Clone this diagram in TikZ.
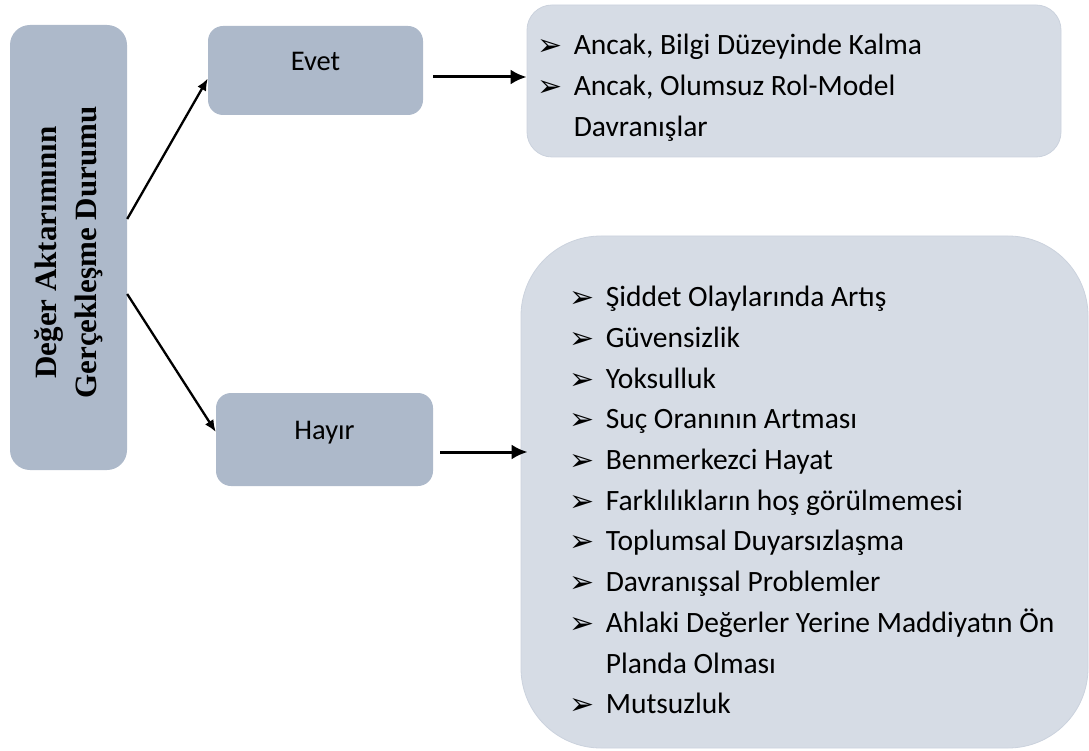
\documentclass[tikz,border=0pt]{standalone}
\usepackage{fontspec}
\setmainfont{Carlito}
\newfontfamily\titlefont{Liberation Serif}
\newfontfamily\arrowglyphs{DejaVu Sans}
\usetikzlibrary{arrows.meta}

\definecolor{darkfill}{HTML}{ADB9CA}
\definecolor{lightfill}{HTML}{D6DCE5}
\definecolor{lightedge}{HTML}{CBD2DD}

\newcommand{\itm}{\makebox[36pt][l]{\raisebox{-1pt}[0pt][0pt]{\arrowglyphs\fontsize{30}{30}\selectfont ➢}}}
\newcommand{\cnt}{\hspace*{36pt}}

\begin{document}
\begin{tikzpicture}
  [x=1pt,y=-1pt,
   darkbox/.style={fill=darkfill, rounded corners=15pt, inner sep=0pt,
     font=\fontsize{28.5}{34}\selectfont},
   lightbox/.style={fill=lightfill, draw=lightedge, line width=0.8pt, inner sep=0pt},
   itemtext/.style={anchor=north west, inner sep=0pt, align=left,
     font=\fontsize{29.5}{40.7}\selectfont},
   arr/.style={-{Latex[length=12pt,width=10pt]}, line width=2.3pt},
   bigarr/.style={-{Latex[length=16pt,width=15pt]}, line width=3pt}]
  \useasboundingbox (0,0) rectangle (1089,751);

  \node[darkbox, rounded corners=20pt, minimum width=117pt, minimum height=445pt] (root) at (68.5,247.5) {};
  \node[rotate=90, align=center, inner sep=0pt,
        font=\titlefont\bfseries\fontsize{31}{40}\selectfont] (roottext) at ([yshift=-5pt]root.center)
        {Değer Aktarımının\\Gerçekleşme Durumu};

  \node[darkbox, minimum width=215pt, minimum height=89pt] (evet) at (315.5,70.5) {\smash{Evet}};
  \node[darkbox, minimum width=217pt, minimum height=93pt] (hayir) at (324.5,439.5) {\smash{Hayır}};

  \node[lightbox, rounded corners=25pt, minimum width=534pt, minimum height=152pt] (list1) at (794,81) {};
  \node[lightbox, rounded corners=80pt, minimum width=567pt, minimum height=512pt] (list2) at (804.5,492) {};

  \node[itemtext] (items1) at ([xshift=11pt,yshift=-21.5pt]list1.north west)
    {\strut\itm Ancak, Bilgi Düzeyinde Kalma\\
     \strut\itm Ancak, Olumsuz Rol-Model\\
     \strut\cnt Davranışlar};
  \node[itemtext] (items2) at ([xshift=49pt,yshift=-42.5pt]list2.north west)
    {\strut\itm Şiddet Olaylarında Artış\\
     \strut\itm Güvensizlik\\
     \strut\itm Yoksulluk\\
     \strut\itm Suç Oranının Artması\\
     \strut\itm Benmerkezci Hayat\\
     \strut\itm Farklılıkların hoş görülmemesi\\
     \strut\itm Toplumsal Duyarsızlaşma\\
     \strut\itm Davranışsal Problemler\\
     \strut\itm Ahlaki Değerler Yerine Maddiyatın Ön\\
     \strut\cnt Planda Olması\\
     \strut\itm Mutsuzluk};

  \draw[arr] ([yshift=28.5pt]root.east) -- ([yshift=-8pt]evet.west);
  \draw[arr] ([yshift=-46.5pt]root.east) -- ([yshift=7.5pt]hayir.west);
  \draw[bigarr] ([xshift=10pt,yshift=-6.5pt]evet.east) -- ([yshift=-6.5pt]evet.east -| list1.west);
  \draw[bigarr, shorten >=-7pt] ([xshift=7pt,yshift=-12.5pt]hayir.east) -- ([yshift=-12.5pt]hayir.east -| list2.west);
\end{tikzpicture}
\end{document}
